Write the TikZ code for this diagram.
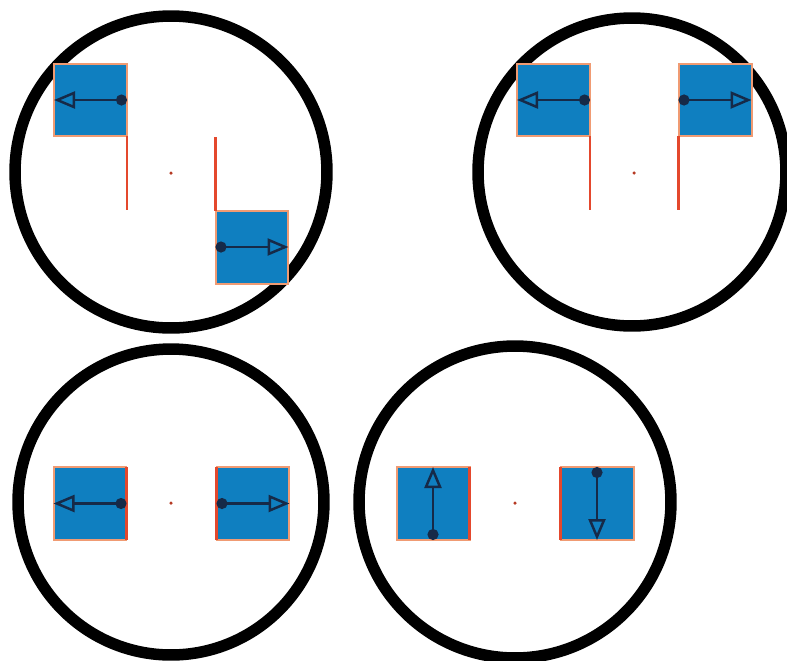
\documentclass[tikz,border=0pt]{standalone}
\usepackage{tikz}
\usetikzlibrary{arrows.meta, positioning}
\definecolor{padblue}{RGB}{15,127,192}
\definecolor{padedge}{RGB}{240,155,115}
\definecolor{wirered}{RGB}{228,72,45}
\definecolor{pinnavy}{RGB}{22,42,72}
\begin{document}
\begin{tikzpicture}[
  x=0.02cm, y=-0.02cm,
  ring/.style={draw=black, line width=0.23cm},
  pad/.style={draw=padedge, fill=padblue, line width=0.04cm, minimum size=1.46cm, inner sep=0pt, outer sep=0pt},
  hub/.style={circle, fill=wirered!80!black, minimum size=0.07cm, inner sep=0pt},
  wire/.style={draw=wirered, line width=0.05cm},
  arr/.style={{Circle[length=0.22cm]}-{Triangle[open, length=0.42cm, width=0.34cm]}, draw=pinnavy, line width=0.05cm}
]
\useasboundingbox (0,0) rectangle (787,660);

% centres
\node[hub] (c1) at (171,173) {};
\node[hub] (c2) at (634,173) {};
\node[hub] (c3) at (171,503) {};
\node[hub] (c4) at (515,503) {};

\draw[ring] (171,172) circle [radius=3.12cm];
\draw[ring] (632,172) circle [radius=3.08cm];
\draw[ring] (171,502) circle [radius=3.06cm];
\draw[ring] (515,502) circle [radius=3.12cm];

% top left
\node[pad] (a1) at (90.5,100) {};
\node[pad] (b1) at (252,247) {};
\coordinate (a1w) at (a1.south east |- 0,210);
\coordinate (b1w) at (b1.north west |- 0,137);
\draw[wire] (a1.south east) -- (a1w);
\draw[wire] (b1.north west) -- (b1w);
\draw[arr] (a1.east) -- (a1.west);
\draw[arr] (b1.west) -- (b1.east);

% top right
\node[pad] (a2) at (553.5,100) {};
\node[pad] (b2) at (715,100) {};
\coordinate (a2w) at (a2.south east |- 0,210);
\coordinate (b2w) at (b2.south west |- 0,210);
\draw[wire] (a2.south east) -- (a2w);
\draw[wire] (b2.south west) -- (b2w);
\draw[arr] (a2.east) -- (a2.west);
\draw[arr] (b2.west) -- (b2.east);

% bottom left
\node[pad] (a3) at (90,503.5) {};
\node[pad] (b3) at (253,503.5) {};
\draw[wire] (a3.north east) -- (a3.south east);
\draw[wire] (b3.north west) -- (b3.south west);
\draw[arr] (a3.east) -- (a3.west);
\draw[arr] (b3.west) -- (b3.east);

% bottom right
\node[pad] (a4) at (433,503.5) {};
\node[pad] (b4) at (597,503.5) {};
\draw[wire] (a4.north east) -- (a4.south east);
\draw[wire] (b4.north west) -- (b4.south west);
\draw[arr] (a4.south) -- (a4.north);
\draw[arr] (b4.north) -- (b4.south);
\end{tikzpicture}
\end{document}
